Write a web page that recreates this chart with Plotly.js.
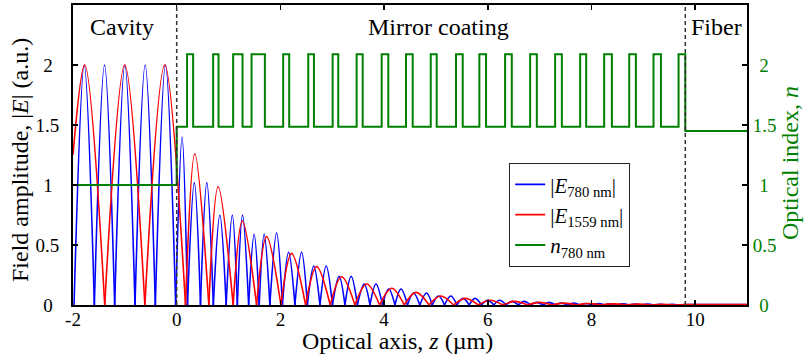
<!DOCTYPE html>
<html><head><meta charset="utf-8">
<script src="https://cdn.plot.ly/plotly-3.0.1.min.js"></script>
<style>html,body{margin:0;padding:0;background:#fff}#chart{width:804px;height:358px}</style>
</head><body><div id="chart"></div>
<script>
// ---- tick labels ----
const zTickVals = [-2, 0, 2, 4, 6, 8, 10];
const zTickText = ['-2', '0', '2', '4', '6', '8', '10'];
const eTickVals = [0, 0.5, 1, 1.5, 2];
const eTickText = ['0\u2008\u200A', '0.5', '1\u2008\u200A', '1.5', '2\u2008\u200A'];
const nTickVals = [0, 0.5, 1, 1.5, 2];
const nTickText = ['\u2008\u200A0', '0.5', '\u2008\u200A1', '1.5', '\u2008\u200A2'];

// ---- |E| at 780 nm: zero positions (um), lobe peak positions (um) and peak values ----
const e780Zeros = [-1.98, -1.588, -1.196, -0.804, -0.412, -0.02, 0.208, 0.459, 0.707, 0.954, 1.170, 1.388,
  1.591, 1.797, 2.039, 2.280, 2.521, 2.763, 3.004, 3.245, 3.486, 3.728, 3.969, 4.210, 4.452, 4.689, 4.929,
  5.166, 5.403, 5.641, 5.878, 6.116, 6.353, 6.591, 6.828, 7.066, 7.303, 7.541, 7.778, 8.015, 8.253, 8.490,
  8.728, 8.965, 9.203, 9.440, 9.678];
const e780PeakZ = [-1.784, -1.392, -1.0, -0.608, -0.216, 0.104, 0.340, 0.581, 0.832, 1.073, 1.270, 1.494,
  1.687, 1.927, 2.158, 2.409, 2.643, 2.884, 3.133, 3.365, 3.616, 3.844, 4.089, 4.326, 4.568, 4.819, 5.050,
  5.288, 5.523, 5.755, 5.996, 6.228, 6.469, 6.701, 6.942, 7.180, 7.415, 7.656, 7.898, 8.129, 8.371, 8.608,
  8.844, 9.085, 9.326, 9.558];
const e780PeakE = [2.0, 2.0, 2.0, 2.0, 2.0, 1.40, 1.02, 1.02, 0.75, 0.75, 0.75, 0.59,
  0.59, 0.60, 0.44, 0.44, 0.325, 0.325, 0.24, 0.24, 0.175, 0.175, 0.133, 0.133, 0.10, 0.10, 0.075,
  0.075, 0.055, 0.055, 0.04, 0.04, 0.03, 0.03, 0.022, 0.022, 0.016, 0.016, 0.012, 0.012, 0.009, 0.009,
  0.007, 0.007, 0.005, 0.005];
const e780EdgeValue = 0;
const e780TailZ = [9.81, 11];
const e780TailE = [0.003, 0.003];

// ---- |E| at 1559 nm ----
const e1559Zeros = [-2, -1.388, -0.614, 0.170, 0.620, 1.089, 1.541, 2.010, 2.486, 2.961, 3.438, 3.915, 4.390,
  4.867, 5.342, 5.817, 6.292, 6.766, 7.241, 7.716, 8.191, 8.666, 9.141, 9.616];
const e1559PeakZ = [-1.774, -1.002, -0.230, 0.349, 0.799, 1.266, 1.734, 2.216, 2.699, 3.181, 3.664, 4.147,
  4.616, 5.089, 5.566, 6.044, 6.517, 6.990, 7.469, 7.946, 8.419, 8.898, 9.373];
const e1559PeakE = [2.0, 2.0, 2.0, 1.26, 0.985, 0.70, 0.57, 0.43, 0.32, 0.235, 0.175, 0.14,
  0.105, 0.075, 0.055, 0.04, 0.03, 0.022, 0.016, 0.012, 0.009, 0.007, 0.005];
const e1559EdgeValue = 1.25;   // field value at the left edge z = -2
const e1559TailZ = [9.81, 11];
const e1559TailE = [0.004, 0.004];

// ---- refractive index profile (780 nm): layer start positions and index ----
const nEdges = [-2, 0, 0.20, 0.317, 0.703, 0.807, 1.089, 1.270, 1.444, 1.701, 2.054, 2.170, 2.537, 2.647,
  3.008, 3.116, 3.471, 3.587, 3.954, 4.081, 4.423, 4.552, 4.900, 5.015, 5.388, 5.517, 5.838, 5.967,
  6.334, 6.463, 6.817, 6.946, 7.299, 7.429, 7.782, 7.898, 8.245, 8.394, 8.728, 8.857, 9.197, 9.340,
  9.680, 9.81, 11];
const nValues = [1.0, 1.485, 2.09, 1.485, 2.09, 1.485, 2.09, 1.485, 2.09, 1.485, 2.09, 1.485, 2.09, 1.485,
  2.09, 1.485, 2.09, 1.485, 2.09, 1.485, 2.09, 1.485, 2.09, 1.485, 2.09, 1.485, 2.09, 1.485,
  2.09, 1.485, 2.09, 1.485, 2.09, 1.485, 2.09, 1.485, 2.09, 1.485, 2.09, 1.485, 2.09, 1.485,
  2.09, 1.45, 1.45];

const mirrorStart = 0, mirrorEnd = 9.81;

function buildField(bounds, edgeValue, peakZ, peakE, tailZ, tailE) {
  const x = [], y = [];
  for (let i = 0; i < peakZ.length; i++) {
    x.push(bounds[i], peakZ[i], bounds[i + 1], null);
    y.push(i === 0 ? edgeValue : 0, peakE[i], 0, null);
  }
  x.push(bounds[bounds.length - 1], tailZ[0], null, tailZ[0], tailZ[1]);
  y.push(0, tailE[0], null, tailE[0], tailE[1]);
  return { x, y };
}

const f780 = buildField(e780Zeros, e780EdgeValue, e780PeakZ, e780PeakE, e780TailZ, e780TailE);
const f1559 = buildField(e1559Zeros, e1559EdgeValue, e1559PeakZ, e1559PeakE, e1559TailZ, e1559TailE);

const FONT = 'Liberation Serif, Times New Roman, serif';
const GREEN = 'rgb(0,128,0)';

const traces = [
  { x: f780.x, y: f780.y, type: 'scatter', mode: 'lines', name: '|<i>E</i><sub>780 nm</sub>|',
    line: { color: 'rgb(0,0,255)', width: 1.6, shape: 'spline', smoothing: 1, simplify: false }, connectgaps: false },
  { x: f1559.x, y: f1559.y, type: 'scatter', mode: 'lines', name: '|<i>E</i><sub>1559 nm</sub>|',
    line: { color: 'rgb(255,0,0)', width: 1.6, shape: 'spline', smoothing: 1, simplify: false }, connectgaps: false },
  { x: nEdges, y: nValues, type: 'scatter', mode: 'lines', name: '<i>n</i><sub>780 nm</sub>', yaxis: 'y2',
    line: { color: GREEN, width: 2, shape: 'hv' } }
];

const L = 73, R = 57, T = 5, B = 53, W = 804, H = 358;
const pw = W - L - R, ph = H - T - B;
const px = v => (v - L) / pw;          // page x -> paper
const py = v => (H - B - v) / ph;      // page y -> paper

const layout = {
  width: W, height: H,
  margin: { l: L, r: R, t: T, b: B, pad: 0 },
  paper_bgcolor: '#fff', plot_bgcolor: '#fff',
  font: { family: FONT, size: 19, color: '#000' },
  showlegend: true,
  legend: {
    x: px(509), y: py(163), xanchor: 'left', yanchor: 'top',
    bgcolor: '#fff', bordercolor: '#222', borderwidth: 1.2,
    font: { family: FONT, size: 21, color: '#000' }
  },
  xaxis: {
    range: [-2, 11], tickmode: 'array', tickvals: zTickVals, ticktext: zTickText,
    ticks: 'inside', ticklen: 5, tickwidth: 1.5, tickcolor: '#000',
    showline: true, linecolor: '#000', linewidth: 2, mirror: 'ticks',
    showgrid: false, zeroline: false, tickfont: { family: FONT, size: 19, color: '#000' }, ticklabelstandoff: -4
  },
  yaxis: {
    range: [0, 2.5], tickmode: 'array', tickvals: eTickVals, ticktext: eTickText,
    ticks: 'inside', ticklen: 5, tickwidth: 1.5, tickcolor: '#000',
    showline: true, linecolor: '#000', linewidth: 2, mirror: true,
    showgrid: false, zeroline: false, tickfont: { family: FONT, size: 19, color: '#000' }, ticklabelstandoff: 8
  },
  yaxis2: {
    range: [0, 2.5], overlaying: 'y', side: 'right', tickmode: 'array', tickvals: nTickVals, ticktext: nTickText,
    ticks: 'inside', ticklen: 5, tickwidth: 1.5, tickcolor: '#000',
    showline: true, linecolor: '#000', linewidth: 2,
    showgrid: false, zeroline: false, tickfont: { family: FONT, size: 19, color: GREEN }, ticklabelstandoff: 0
  },
  shapes: [mirrorStart, mirrorEnd].map(z => ({
    type: 'line', xref: 'x', yref: 'paper', x0: z, x1: z, y0: 0, y1: 1, layer: 'above',
    line: { color: '#333', width: 1.5, dash: '4px,3px' }
  })),
  annotations: [
    { text: 'Cavity', xref: 'paper', yref: 'paper', x: px(122), y: py(27), xanchor: 'center', yanchor: 'middle', showarrow: false, font: { size: 24 } },
    { text: 'Mirror coating', xref: 'paper', yref: 'paper', x: px(438), y: py(27), xanchor: 'center', yanchor: 'middle', showarrow: false, font: { size: 24 } },
    { text: 'Fiber', xref: 'paper', yref: 'paper', x: px(716), y: py(27), xanchor: 'center', yanchor: 'middle', showarrow: false, font: { size: 24 } },
    { text: 'Optical axis, <i>z</i> (µm)', xref: 'paper', yref: 'paper', x: px(397), y: py(341), xanchor: 'center', yanchor: 'middle', showarrow: false, font: { size: 24 } },
    { text: 'Field amplitude, |<i>E</i>| (a.u.)', xref: 'paper', yref: 'paper', x: px(20), y: py(160), xanchor: 'center', yanchor: 'middle', textangle: -90, showarrow: false, font: { size: 24 } },
    { text: 'Optical index, <i>n</i>', xref: 'paper', yref: 'paper', x: px(790), y: py(163), xanchor: 'center', yanchor: 'middle', textangle: -90, showarrow: false, font: { size: 24, color: GREEN } }
  ]
};

Plotly.newPlot('chart', traces, layout, { displayModeBar: false, staticPlot: true });
</script>
</body></html>
